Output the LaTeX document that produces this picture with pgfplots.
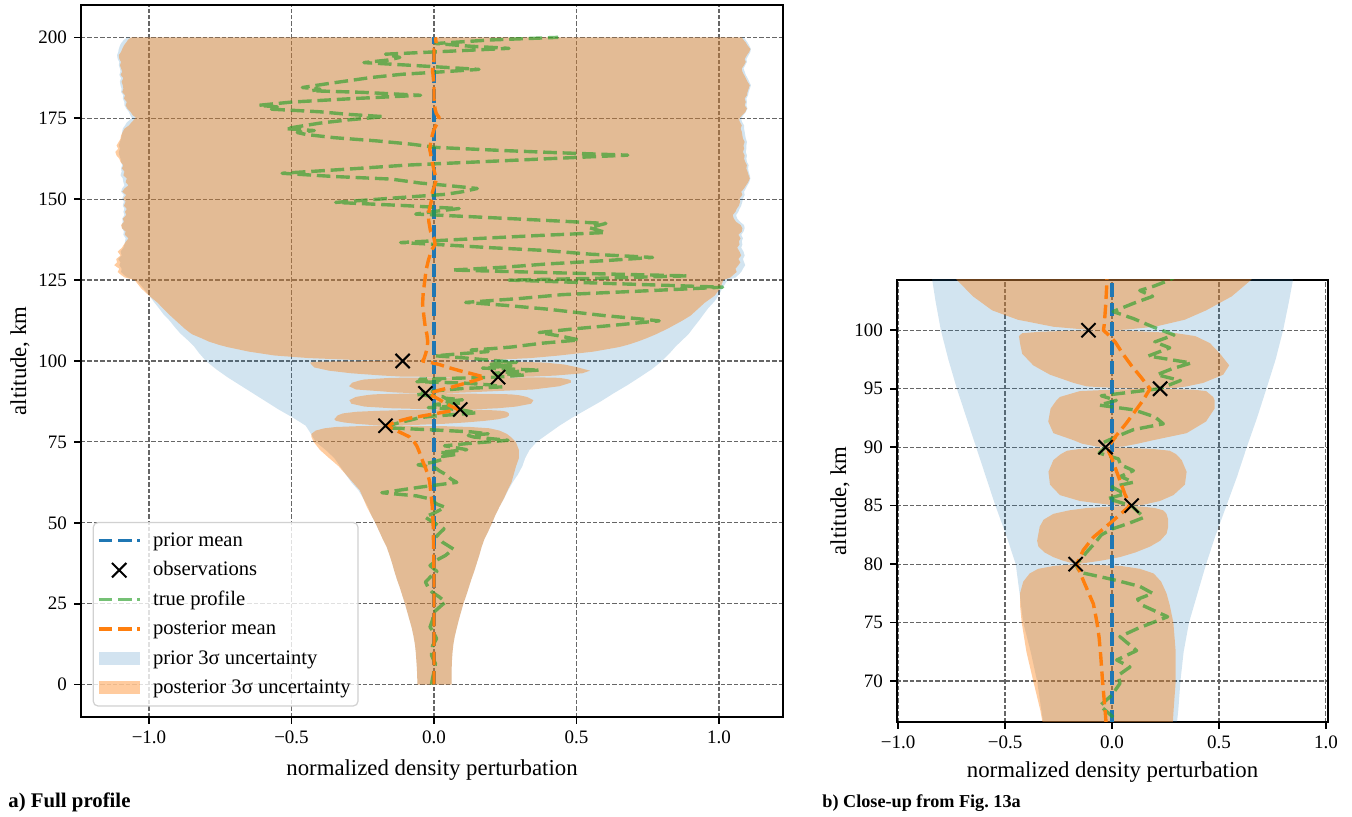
\documentclass[border=0pt]{standalone}
\usepackage{fontspec}
\setmainfont{Liberation Serif}
\usepackage{pgfplots}
\pgfplotsset{compat=1.18}
\usepackage{pgfplotstable}
\usepgfplotslibrary{fillbetween}

\definecolor{c0}{RGB}{31,119,180}
\definecolor{c1}{RGB}{255,127,14}
\definecolor{c2}{RGB}{44,160,44}

% posterior 3 sigma band: left and right edge per altitude (km)
\pgfplotstableread{
y lo hi
0 -0.058 0.062
2.5 -0.059 0.062
5 -0.060 0.062
7.5 -0.062 0.063
10 -0.064 0.065
12.5 -0.067 0.068
15 -0.072 0.073
17.5 -0.078 0.080
20 -0.086 0.087
22.5 -0.094 0.095
25 -0.102 0.103
27.5 -0.111 0.113
30 -0.120 0.122
32.5 -0.130 0.131
35 -0.139 0.141
37.5 -0.147 0.150
40 -0.156 0.159
42.5 -0.166 0.167
45 -0.180 0.177
47.5 -0.193 0.191
50 -0.206 0.204
52.5 -0.221 0.216
55 -0.236 0.230
57.5 -0.248 0.245
60 -0.260 0.258
62.5 -0.285 0.272
65 -0.310 0.280
67.5 -0.335 0.288
70 -0.368 0.298
72.5 -0.400 0.298
75 -0.422 0.287
76.5 -0.430 0.270
77.5 -0.430 0.255
78.5 -0.415 0.230
79.2 -0.385 0.195
79.6 -0.345 0.130
79.85 -0.270 0.040
80 -0.168 -0.162
80.3 -0.230 -0.050
80.6 -0.274 0.037
81 -0.315 0.110
81.5 -0.344 0.178
82 -0.350 0.225
82.6 -0.344 0.255
83.2 -0.338 0.263
83.8 -0.320 0.263
84.3 -0.274 0.255
84.6 -0.200 0.240
84.8 -0.118 0.200
84.92 0.000 0.140
85 0.082 0.088
85.05 0.000 0.140
85.4 -0.150 0.224
85.9 -0.243 0.287
86.8 -0.290 0.341
87.9 -0.297 0.349
88.9 -0.274 0.326
89.4 -0.240 0.300
89.7 -0.210 0.270
89.85 -0.150 0.190
89.95 -0.050 0.050
90 -0.020 -0.014
90.05 -0.070 0.050
90.3 -0.140 0.120
90.6 -0.180 0.193
91.2 -0.274 0.349
92.2 -0.298 0.440
93.3 -0.287 0.480
94 -0.260 0.480
94.3 -0.243 0.473
94.8 -0.150 0.440
94.92 0.000 0.380
95 0.170 0.185
95.08 0.000 0.300
95.2 -0.118 0.350
95.5 -0.180 0.427
96.2 -0.290 0.520
97 -0.368 0.548
98 -0.420 0.505
98.9 -0.430 0.458
99.5 -0.435 0.390
99.75 -0.420 0.300
99.88 -0.330 0.170
99.96 -0.180 0.050
100 -0.045 -0.035
100.05 -0.120 0.060
100.3 -0.274 0.200
100.9 -0.440 0.340
101.7 -0.560 0.440
102.9 -0.650 0.560
104.3 -0.725 0.650
105 -0.755 0.680
106 -0.790 0.715
107 -0.815 0.745
108.3 -0.850 0.780
110 -0.875 0.820
112.4 -0.905 0.870
114 -0.925 0.900
116 -0.948 0.925
118 -0.970 0.950
120.2 -1.000 0.985
122.5 -1.028 1.005
125.0 -1.050 1.015
125.8 -1.085 1.040
126.6 -1.098 1.050
127.5 -1.110 1.062
128.5 -1.104 1.058
129.6 -1.122 1.068
130.5 -1.112 1.075
131.5 -1.115 1.068
132.6 -1.100 1.078
133.8 -1.110 1.072
135.0 -1.095 1.064
136.0 -1.088 1.072
137.0 -1.080 1.070
137.9 -1.072 1.076
139.0 -1.085 1.068
140.0 -1.082 1.080
141.0 -1.095 1.082
142.0 -1.098 1.076
143.0 -1.088 1.060
144.0 -1.092 1.052
145.1 -1.080 1.048
146.1 -1.084 1.058
147.0 -1.078 1.062
148.0 -1.088 1.070
149.2 -1.082 1.074
150.2 -1.090 1.072
151.3 -1.080 1.082
152.3 -1.094 1.078
153.3 -1.086 1.088
154.3 -1.072 1.095
155.2 -1.082 1.102
156.4 -1.078 1.108
157.4 -1.090 1.104
158.5 -1.086 1.100
159.5 -1.095 1.096
160.5 -1.090 1.098
161.5 -1.100 1.092
162.5 -1.104 1.088
163.5 -1.114 1.090
164.6 -1.118 1.084
165.6 -1.108 1.088
166.6 -1.114 1.086
167.7 -1.106 1.090
168.7 -1.100 1.084
169.7 -1.098 1.082
170.8 -1.092 1.080
171.8 -1.086 1.076
172.8 -1.070 1.080
173.7 -1.062 1.074
174.6 -1.052 1.070
175.2 -1.046 1.074
176.0 -1.058 1.082
176.9 -1.064 1.092
178.0 -1.076 1.098
179.0 -1.082 1.090
180.0 -1.078 1.094
181.1 -1.088 1.090
182.1 -1.084 1.098
183.1 -1.094 1.100
184.1 -1.090 1.104
185.2 -1.092 1.108
186.3 -1.096 1.100
187.4 -1.090 1.094
188.4 -1.100 1.088
189.4 -1.094 1.082
190.4 -1.098 1.080
191.4 -1.102 1.088
192.4 -1.098 1.094
193.3 -1.104 1.090
194.5 -1.106 1.098
195.5 -1.098 1.106
196.4 -1.094 1.110
197.5 -1.088 1.100
198.4 -1.080 1.094
199.2 -1.074 1.086
200.0 -1.063 1.080
}\postband

% prior 3 sigma band
\pgfplotstableread{
y lo hi
0 -0.058 0.062
2.5 -0.059 0.062
5 -0.060 0.062
7.5 -0.062 0.063
10 -0.064 0.065
12.5 -0.067 0.068
15 -0.072 0.073
17.5 -0.078 0.080
20 -0.086 0.087
22.5 -0.094 0.095
25 -0.102 0.103
27.5 -0.111 0.113
30 -0.120 0.122
32.5 -0.130 0.131
35 -0.139 0.141
37.5 -0.147 0.150
40 -0.156 0.159
42.5 -0.166 0.167
45 -0.180 0.177
47.5 -0.193 0.191
50 -0.206 0.204
52.5 -0.221 0.216
55 -0.232 0.230
57.5 -0.248 0.246
60 -0.265 0.260
62.5 -0.290 0.276
65 -0.310 0.295
67.5 -0.330 0.310
70 -0.350 0.320
72.5 -0.380 0.335
75 -0.415 0.360
77.5 -0.432 0.400
80 -0.450 0.440
82.5 -0.495 0.485
85 -0.545 0.535
87.5 -0.590 0.585
90 -0.635 0.630
92.5 -0.680 0.678
95 -0.725 0.722
97.5 -0.765 0.765
100 -0.800 0.800
102.5 -0.825 0.828
104.5 -0.842 0.848
106.5 -0.865 0.872
108.5 -0.890 0.895
110.5 -0.910 0.912
112.5 -0.928 0.930
114.3 -0.948 0.945
116.3 -0.965 0.962
118.5 -0.985 0.985
120.5 -1.002 1.000
122.5 -1.020 1.012
125.0 -1.045 1.030
125.8 -1.075 1.058
126.6 -1.088 1.068
127.5 -1.098 1.078
128.5 -1.096 1.084
129.6 -1.104 1.092
130.5 -1.100 1.088
131.5 -1.108 1.084
132.6 -1.096 1.090
133.8 -1.100 1.086
135.0 -1.090 1.078
136.0 -1.086 1.082
137.0 -1.084 1.080
137.9 -1.082 1.084
139.0 -1.090 1.078
140.0 -1.088 1.086
141.0 -1.094 1.090
142.0 -1.096 1.088
143.0 -1.092 1.074
144.0 -1.094 1.064
145.1 -1.086 1.060
146.1 -1.090 1.068
147.0 -1.086 1.072
148.0 -1.092 1.078
149.2 -1.088 1.082
150.2 -1.094 1.084
151.3 -1.088 1.090
152.3 -1.098 1.088
153.3 -1.094 1.094
154.3 -1.086 1.100
155.2 -1.090 1.106
156.4 -1.092 1.110
157.4 -1.100 1.108
158.5 -1.096 1.104
159.5 -1.098 1.102
160.5 -1.094 1.104
161.5 -1.098 1.098
162.5 -1.100 1.096
163.5 -1.104 1.098
164.6 -1.106 1.094
165.6 -1.102 1.096
166.6 -1.106 1.096
167.7 -1.102 1.098
168.7 -1.098 1.094
169.7 -1.096 1.092
170.8 -1.094 1.090
171.8 -1.092 1.088
172.8 -1.084 1.088
173.7 -1.078 1.082
174.6 -1.066 1.078
175.2 -1.060 1.080
176.0 -1.066 1.086
176.9 -1.070 1.094
178.0 -1.080 1.100
179.0 -1.086 1.096
180.0 -1.086 1.098
181.1 -1.092 1.096
182.1 -1.090 1.102
183.1 -1.098 1.104
184.1 -1.096 1.108
185.2 -1.100 1.112
186.3 -1.102 1.106
187.4 -1.098 1.100
188.4 -1.104 1.094
189.4 -1.100 1.090
190.4 -1.102 1.086
191.4 -1.106 1.092
192.4 -1.104 1.098
193.3 -1.110 1.096
194.5 -1.112 1.104
195.5 -1.108 1.110
196.4 -1.106 1.112
197.5 -1.102 1.106
198.4 -1.096 1.100
199.2 -1.088 1.094
200.0 -1.076 1.086
}\priorband

% posterior mean
\pgfplotstableread{
y m
0 0
20 0
35 0
40 -0.001
45 -0.002
50 -0.003
55 -0.006
60 -0.012
62.6 -0.015
65 -0.022
67 -0.030
70 -0.044
72 -0.052
73.7 -0.060
75 -0.070
76.6 -0.087
78.6 -0.134
80 -0.165
81.2 -0.134
82.3 -0.087
83.5 -0.009
85 0.085
86 0.060
87 0.040
88 0.020
89 0.000
89.6 -0.015
90 -0.017
91 0.020
92 0.065
93 0.105
94 0.145
95 0.178
96 0.135
97 0.090
98 0.050
99 0.015
99.5 -0.010
100 -0.040
100.5 -0.036
102 -0.030
104 -0.024
106 -0.022
108.3 -0.025
110 -0.030
113.5 -0.035
117.5 -0.040
121 -0.038
125 -0.032
128 -0.028
131 -0.020
134 -0.010
136 0.004
138 0.000
140 -0.012
143 -0.018
145.4 -0.020
148 -0.013
150 -0.008
152 -0.006
156 0.008
159 0.000
161.3 -0.006
165.4 -0.015
168.5 -0.010
171.6 0.000
173.5 0.012
175.2 0.018
176.5 0.008
177.8 0.004
181 0.000
185 0.000
190 -0.005
193 0.000
196.3 0.000
198 0.008
200 0.005
}\postmean

% true density perturbation profile
\pgfplotstableread{
y x
0 -0.009
2 -0.005
4 0.000
6.5 0.005
9.1 -0.009
12 -0.005
14.2 0.009
16 0.000
17.8 -0.014
20 -0.005
22.4 0.000
24 0.020
25.5 0.040
27 0.020
28.6 -0.007
30 -0.020
31.7 -0.030
33.5 -0.010
35 0.010
36.8 -0.014
38.5 0.010
39.9 0.040
41.9 0.068
44 0.030
46 0.010
48.1 0.035
50 0.000
51.8 -0.032
53 0.000
54.8 0.039
55.8 0.010
57.4 -0.014
58.3 -0.060
59.3 -0.183
61 -0.050
62.5 0.080
63.5 0.060
65 0.040
66 0.020
66.9 0.006
67.9 -0.056
68.8 0.000
69.8 0.037
70.5 0.030
71.2 0.084
71.8 0.022
72.6 0.115
73.8 0.037
74.5 0.120
75.5 0.260
76.5 0.140
77.0 0.120
77.5 0.190
78.1 0.130
78.7 0.000
79.3 -0.150
80.0 -0.170
80.5 -0.140
81.0 -0.120
81.8 -0.080
82.5 -0.050
83.0 0.000
83.5 0.080
84.0 0.150
84.5 0.120
85.0 0.090
85.6 -0.020
86.0 0.060
86.6 0.000
87.0 0.100
87.5 0.040
88.0 0.100
88.5 0.040
89.0 0.030
89.5 -0.060
90.0 -0.030
90.4 -0.040
90.9 0.020
91.5 0.100
92.0 0.240
92.6 0.200
93.2 0.100
93.6 -0.060
94.0 0.020
94.4 -0.050
95.0 0.220
95.2 0.250
95.7 0.320
96.2 0.210
96.7 0.280
97.2 0.370
97.8 0.170
98.5 0.270
99.0 0.200
99.6 0.290
100.3 0.190
101.0 0.100
101.6 0.005
102.3 0.100
102.9 0.190
103.4 0.130
103.8 0.200
104.3 0.270
105.5 0.380
106.5 0.509
107.6 0.450
108.8 0.369
110.0 0.500
111.2 0.650
112.4 0.790
113.2 0.700
114.0 0.600
115.0 0.500
116.0 0.400
117.2 0.250
118.1 0.111
119.3 0.300
120.5 0.450
121.5 0.700
122.8 1.013
124.0 0.600
125.0 0.263
125.5 0.550
126.3 0.890
127.2 0.450
128.1 0.064
129.0 0.250
130.0 0.400
131.0 0.600
132.0 0.767
133.0 0.550
134.2 0.380
135.0 0.200
135.8 0.050
136.6 -0.117
137.6 0.100
138.7 0.350
139.7 0.603
141.2 0.545
142.5 0.603
143.5 0.380
144.5 0.150
145.4 -0.064
146.2 0.000
147.1 0.088
148.0 -0.100
149.0 -0.345
150.3 -0.150
151.5 0.041
152.3 0.100
153.3 0.152
154.2 0.050
155.0 -0.050
156.2 -0.150
157.0 -0.350
158.0 -0.533
159.3 -0.300
160.5 -0.100
161.5 0.150
162.5 0.400
163.6 0.680
164.3 0.450
165.0 0.250
166.0 0.006
167.0 -0.080
168.0 -0.200
169.0 -0.350
170.0 -0.450
170.6 -0.480
171.2 -0.420
171.8 -0.520
172.8 -0.450
173.5 -0.400
174.5 -0.300
175.5 -0.176
176.2 -0.300
177.0 -0.400
177.8 -0.570
178.5 -0.550
179.0 -0.615
180.0 -0.500
181.0 -0.300
182.1 -0.047
183.0 -0.250
183.5 -0.430
184.0 -0.400
184.5 -0.462
185.6 -0.380
186.6 -0.300
187.6 -0.220
188.6 -0.111
189.3 0.020
190.1 0.158
191.2 -0.050
192.2 -0.246
193.0 -0.160
193.8 -0.120
194.8 -0.170
195.7 0.050
196.6 0.263
197.3 0.120
198.1 0.006
199.2 0.200
200.0 0.436
}\trueprofile

\newcommand\profileplots[1]{%
  \addplot[draw=none, name path=prl#1, forget plot] table[x=lo, y=y]{\priorband};
  \addplot[draw=none, name path=prr#1, forget plot] table[x=hi, y=y]{\priorband};
  \addplot[fill=c0, fill opacity=0.2, draw=none, forget plot] fill between[of=prl#1 and prr#1, reverse=true];
  \addplot[draw=none, name path=pol#1, forget plot] table[x=lo, y=y]{\postband};
  \addplot[draw=none, name path=por#1, forget plot] table[x=hi, y=y]{\postband};
  \addplot[fill=c1, fill opacity=0.4, draw=none, forget plot] fill between[of=pol#1 and por#1, reverse=true];
  \addplot[only marks, mark=x, mark size=5pt, black, line width=1pt, forget plot]
    coordinates {(-0.11,100) (0.225,95) (-0.03,90) (0.092,85) (-0.17,80)};
  \addplot[c0, line width=1.7pt, dash pattern=on 6.8pt off 2.9pt, forget plot]
    coordinates {(0,0) (0,200)};
  \addplot[c2, draw opacity=0.65, line width=1.7pt, line join=round, dash pattern=on 6.8pt off 2.9pt, forget plot]
    table[x=x, y=y]{\trueprofile};
  \addplot[c1, line width=1.7pt, line join=round, dash pattern=on 6.8pt off 2.9pt, forget plot]
    table[x=m, y=y]{\postmean};
}

\pgfplotsset{
  profile axis/.style={
    scale only axis,
    anchor=south west,
    axis line style={line width=0.8pt, black},
    tick align=outside,
    tick pos=left,
    major tick length=3.5pt,
    tick style={black, line width=0.8pt},
    grid=major,
    grid style={black!60, line width=0.6pt, dash pattern=on 2.2pt off 1pt},
    tick label style={font=\fontsize{9.5}{11}\selectfont},
    label style={font=\fontsize{11.4}{13.5}\selectfont},
    xlabel={normalized density perturbation},
    ylabel={altitude, km},
    xtick={-1,-0.5,0,0.5,1},
    xticklabels={−1.0,−0.5,0.0,0.5,1.0},
  },
}

\begin{document}
\begin{tikzpicture}
\path (0pt,0pt) (676pt,408.5pt);

\begin{axis}[
  profile axis,
  at={(40.5pt,50pt)},
  width=351pt, height=356pt,
  xmin=-1.2386, xmax=1.2246,
  ymin=-10, ymax=210,
  ytick={0,25,50,75,100,125,150,175,200},
  yticklabels={0,25,50,75,100,125,150,175,200},
  xlabel style={at={(axis description cs:0.5,-0.0744)}, anchor=center},
  ylabel style={at={(axis description cs:-0.0869,0.5)}, anchor=center},
  legend cell align=left,
  legend style={
    at={(0.0165,0.0145)}, anchor=south west,
    draw=black!18, line width=0.6pt, rounded corners=2.5pt,
    fill=white, fill opacity=0.8, text opacity=1,
    font=\fontsize{10.3}{12.5}\selectfont,
    inner xsep=1.9pt, inner ysep=1.8pt, row sep=0pt,
    nodes={inner sep=1.8pt, text height=8.4pt, text depth=2.7pt},
  },
]
\profileplots{a}
\addlegendimage{legend image code/.code={
  \draw[c0, line width=1.7pt, sharp corners, dash pattern=on 6.8pt off 2.9pt] (0pt,0pt) -- (20.5pt,0pt);
  \path (25.1pt,0pt);}}
\addlegendentry{prior mean}
\addlegendimage{legend image code/.code={
  \draw[black, line width=1pt, sharp corners] (6.65pt,-3.6pt) -- (13.85pt,3.6pt) (6.65pt,3.6pt) -- (13.85pt,-3.6pt);
  \path (0pt,0pt) (25.1pt,0pt);}}
\addlegendentry{observations}
\addlegendimage{legend image code/.code={
  \draw[c2, draw opacity=0.65, line width=1.7pt, sharp corners, dash pattern=on 6.8pt off 2.9pt] (0pt,0pt) -- (20.5pt,0pt);
  \path (25.1pt,0pt);}}
\addlegendentry{true profile}
\addlegendimage{legend image code/.code={
  \draw[c1, line width=1.7pt, sharp corners, dash pattern=on 6.8pt off 2.9pt] (0pt,0pt) -- (20.5pt,0pt);
  \path (25.1pt,0pt);}}
\addlegendentry{posterior mean}
\addlegendimage{legend image code/.code={
  \path[fill=c0, fill opacity=0.2, draw=none, sharp corners] (0pt,-3.35pt) rectangle (20.5pt,3.35pt);
  \path (25.1pt,0pt);}}
\addlegendentry{prior 3σ uncertainty}
\addlegendimage{legend image code/.code={
  \path[fill=c1, fill opacity=0.4, draw=none, sharp corners] (0pt,-3.35pt) rectangle (20.5pt,3.35pt);
  \path (25.1pt,0pt);}}
\addlegendentry{posterior 3σ uncertainty}
\end{axis}

\begin{axis}[
  profile axis,
  at={(448.5pt,47.5pt)},
  width=215.5pt, height=221pt,
  xmin=-1.005, xmax=1.01,
  ymin=66.5, ymax=104.3,
  ytick={70,75,80,85,90,95,100},
  yticklabels={70,75,80,85,90,95,100},
  xlabel style={at={(axis description cs:0.5,-0.1131)}, anchor=center},
  ylabel style={at={(axis description cs:-0.1323,0.5)}, anchor=center},
]
\profileplots{b}
\end{axis}

\node[anchor=base west, inner sep=0pt, font=\fontsize{10.4}{12}\selectfont\bfseries] at (4pt,4.5pt) {a) Full profile};
\node[anchor=base west, inner sep=0pt, font=\fontsize{9.1}{12}\selectfont\bfseries] at (411pt,4.5pt) {b) Close-up from Fig.~13a};
\end{tikzpicture}
\end{document}
